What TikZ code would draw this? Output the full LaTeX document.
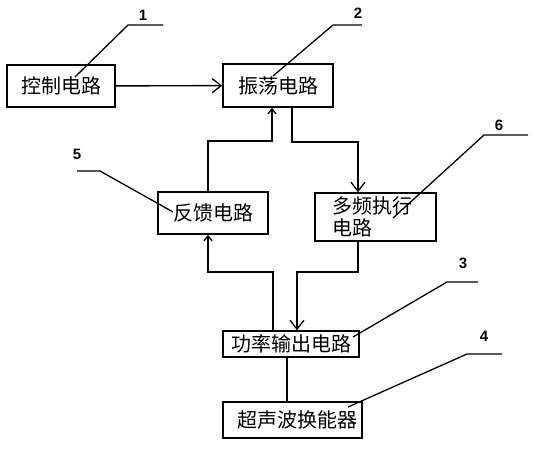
\documentclass[tikz,border=0pt]{standalone}
\usepackage{fontspec}
\newfontfamily\cjk{Noto Sans CJK SC}
\setsansfont{Liberation Sans}
\usetikzlibrary{arrows.meta,positioning,calc}

\begin{document}
\begin{tikzpicture}[
    x=1pt, y=-1pt,
    every node/.style={font=\cjk\fontsize{20}{22}\selectfont},
    block/.style={draw, line width=1.5pt, inner sep=0pt},
    wire/.style={line width=1.4pt},
    bigarr/.style={wire, -{Straight Barb[length=9pt, width=14pt, line width=1.3pt]}},
    smallarr/.style={wire, -{Straight Barb[length=5pt, width=8pt, line width=1.3pt]}},
    leader/.style={line width=1.3pt},
    tag/.style={font=\sffamily\bfseries\fontsize{15}{17}\selectfont, inner sep=0pt}
]
\useasboundingbox (0,0) rectangle (534,450);

% Blocks
\node[block, minimum width=108pt, minimum height=42pt] (ctrl) at (61,86) {控制电路};
\node[block, minimum width=110pt, minimum height=43pt] (osc) at (278,85.5) {振荡电路};
\node[block, minimum width=110pt, minimum height=42pt] (fb) at (213,213) {反馈电路};
\node[block, minimum width=121pt, minimum height=48pt, text width=87pt, align=left] (multi) at (375.5,217) {多频执行\\电路};
\node[block, minimum width=136pt, minimum height=26pt] (pwr) at (291,344) {功率输出电路};
\node[block, minimum width=139pt, minimum height=36pt] (trans) at (292.5,420) {\hspace*{10pt}超声波换能器};

% Connectors
\draw[bigarr] (ctrl) -- (osc);

\coordinate (k1) at (358,142);
\coordinate (k2) at (208,141);
\coordinate (k3) at (208,272);
\coordinate (k4) at (297,272);
\coordinate (k5) at (287,0);
\coordinate (k6) at (292,0);
\coordinate (k7) at (272,0);
\coordinate (k8) at (273,0);
\coordinate (k9) at (358,0);

\draw[bigarr] (k6 |- osc.south) |- (k1) -- (k1 |- multi.north);
\draw[smallarr] (k2 |- fb.north) -- (k2) -| (k7 |- osc.south);
\draw[smallarr] (k8 |- pwr.north) |- (k3) -- (k3 |- fb.south);
\draw[bigarr] (k9 |- multi.south) |- (k4) -- (k4 |- pwr.north);
\draw[wire] (k5 |- pwr.south) -- (k5 |- trans.north);

% Leaders and numbers
\coordinate (p1) at (75,77);
\coordinate (p2) at (273,76);
\coordinate (p3) at (353,337);
\coordinate (p4) at (348,407);
\coordinate (p5) at (173,212);
\coordinate (p6) at (393,218);

\draw[leader] (p1) -- (128,25) -- (163,25);
\draw[leader] (p2) -- (333,25) -- (362,25);
\draw[leader] (p3) -- (447,282) -- (478,282);
\draw[leader] (p4) -- (467,354) -- (502,354);
\draw[leader] (p5) -- (100,171) -- (77,171);
\draw[leader] (p6) -- (484,135) -- (528,135);

\node[tag] (n1) at (143,15) {1};
\node[tag] (n2) at (358,13) {2};
\node[tag] (n3) at (463,263) {3};
\node[tag] (n4) at (484,336) {4};
\node[tag] (n5) at (77,154) {5};
\node[tag] (n6) at (499,125) {6};

\end{tikzpicture}
\end{document}
